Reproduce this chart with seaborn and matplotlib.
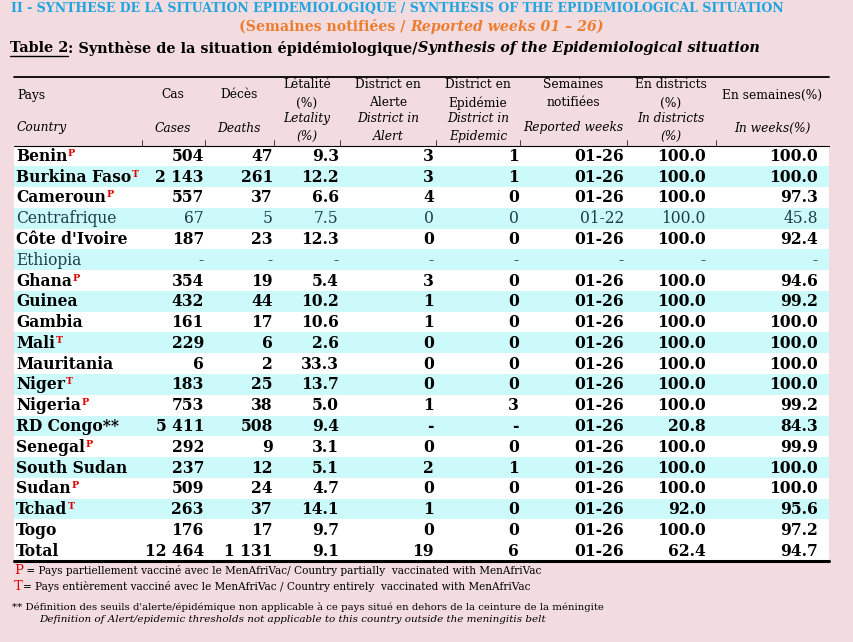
import numpy as np
import matplotlib
matplotlib.use("Agg")
import matplotlib.pyplot as plt
from matplotlib.colors import ListedColormap
import seaborn as sns

sns.set_theme(style="white")
plt.rcParams['font.family'] = ['DejaVu Serif']

# -------------------------
# Dati della tabella
# -------------------------
countries = ['Benin', 'Burkina Faso', 'Cameroun', 'Centrafrique', "Côte d'Ivoire", 'Ethiopia',
             'Ghana', 'Guinea', 'Gambia', 'Mali', 'Mauritania', 'Niger', 'Nigeria', 'RD Congo**',
             'Senegal', 'South Sudan', 'Sudan', 'Tchad', 'Togo', 'Total']
marks = ['P', 'T', 'P', '', '', '', 'P', '', '', 'T', '', 'T', 'P', '', 'P', '', 'P', 'T', '', '']
bold_row = [True, True, True, False, True, False] + [True] * 14
cases = [504, 2143, 557, 67, 187, None, 354, 432, 161, 229, 6, 183, 753, 5411, 292, 237, 509, 263, 176, 12464]
deaths = [47, 261, 37, 5, 23, None, 19, 44, 17, 6, 2, 25, 38, 508, 9, 12, 24, 37, 17, 1131]
letality = [9.3, 12.2, 6.6, 7.5, 12.3, None, 5.4, 10.2, 10.6, 2.6, 33.3, 13.7, 5.0, 9.4, 3.1, 5.1, 4.7, 14.1, 9.7, 9.1]
alert = [3, 3, 4, 0, 0, None, 3, 1, 1, 0, 0, 0, 1, None, 0, 2, 0, 1, 0, 19]
epidemic = [1, 1, 0, 0, 0, None, 0, 0, 0, 0, 0, 0, 3, None, 0, 1, 0, 0, 0, 6]
weeks = ['01-26', '01-26', '01-26', '01-22', '01-26', '-'] + ['01-26'] * 14
pct_districts = [100.0, 100.0, 100.0, 100.0, 100.0, None, 100.0, 100.0, 100.0, 100.0, 100.0, 100.0,
                 100.0, 20.8, 100.0, 100.0, 100.0, 92.0, 100.0, 62.4]
pct_weeks = [100.0, 100.0, 97.3, 45.8, 92.4, None, 94.6, 99.2, 100.0, 100.0, 100.0, 100.0,
             99.2, 84.3, 99.9, 100.0, 100.0, 95.6, 97.2, 94.7]
stripe = [0, 1, 0, 1, 0, 1, 0, 1, 0, 1, 0, 1, 0, 1, 0, 1, 0, 1, 0, 0]

head_fr = ['Pays', 'Cas', 'Décès', 'Létalité\n(%)', 'District en\nAlerte', 'District en\nEpidémie',
           'Semaines\nnotifiées', 'En districts\n(%)', 'En semaines(%)']
head_en = ['Country', 'Cases', 'Deaths', 'Letality\n(%)', 'District in\nAlert', 'District in\nEpidemic',
           'Reported weeks', 'In districts\n(%)', 'In weeks(%)']


def fmt_int(v):
    if v is None:
        return '-'
    return f"{v:,}".replace(',', ' ')


def fmt_dec(v):
    return '-' if v is None else f"{v:.1f}"


# -------------------------
# Layout (pixel)
# -------------------------
W, H = 854, 642
PINK = '#F2DCDF'
CYAN = '#CCFAFB'
left, right = 14, 829
top_line, head_bot, body_bot = 76.5, 145.5, 561
n = len(countries)
row_h = (body_bot - head_bot) / n

fig = plt.figure(figsize=(W / 100, H / 100), dpi=100, facecolor=PINK)

# strisce delle righe con heatmap
hax = fig.add_axes([left / W, (H - body_bot) / H, (right - left) / W, (body_bot - head_bot) / H])
sns.heatmap(np.array(stripe).reshape(-1, 1), cmap=ListedColormap(['white', CYAN]), cbar=False,
            ax=hax, linewidths=0, vmin=0, vmax=1)
hax.axis('off')

ax = fig.add_axes([0, 0, 1, 1], facecolor='none')
ax.set_xlim(0, W)
ax.set_ylim(H, 0)
ax.axis('off')
renderer = fig.canvas.get_renderer()


def seq(x, y, parts, **common):
    # scrive pezzi di testo uno dopo l'altro
    for s, kw in parts:
        opts = dict(common)
        opts.update(kw)
        t = ax.text(x, y, s, ha='left', va='center', **opts)
        bb = t.get_window_extent(renderer)
        x = bb.x1
    return x


# titoli
ax.text(11, 9, 'II - SYNTHESE DE LA SITUATION EPIDEMIOLOGIQUE / SYNTHESIS OF THE EPIDEMIOLOGICAL SITUATION',
        ha='left', va='center', fontsize=9.0, fontweight='bold', color='#22A5DE')
t1 = ax.text(0, 27, '(Semaines notifiées / ', fontsize=10.2, fontweight='bold', color='#ED7D31',
             ha='left', va='center')
t2 = ax.text(0, 27, 'Reported weeks 01 – 26)', fontsize=10.2, fontweight='bold', style='italic',
             color='#ED7D31', ha='left', va='center')
w1 = t1.get_window_extent(renderer).width
w2 = t2.get_window_extent(renderer).width
x0 = 421 - (w1 + w2) / 2
t1.set_x(x0)
t2.set_x(x0 + w1)

xe = seq(10, 48, [('Table 2', {}), ], fontsize=10.4, fontweight='bold', color='black')
ax.plot([10, xe], [56, 56], color='black', lw=1)
seq(xe, 48, [(': Synthèse de la situation épidémiologique/', {}),
             ('Synthesis of the Epidemiological situation', {'style': 'italic'})],
    fontsize=10.4, fontweight='bold', color='black')

# linee della tabella
ax.plot([left, right], [top_line, top_line], color='black', lw=1.3)
ax.plot([left, right], [head_bot, head_bot], color='black', lw=0.8)
ax.plot([left, right], [body_bot, body_bot], color='black', lw=2.2)
for xb in [142, 205, 274, 340, 436, 520, 627, 716]:
    ax.plot([xb, xb], [140, head_bot], color='black', lw=0.5)

# intestazioni
head_x = [17, 173, 239, 307, 388, 478, 573, 671, 772]
for i, (fr, en) in enumerate(zip(head_fr, head_en)):
    ha = 'left' if i == 0 else 'center'
    yfr = 95 if '\n' not in fr else 94
    yen = 128 if '\n' not in en else 127.5
    ax.text(head_x[i], yfr, fr, ha=ha, va='center', fontsize=8.8, color='black', linespacing=1.5)
    ax.text(head_x[i], yen, en, ha=ha, va='center', fontsize=8.8, style='italic', color='black',
            linespacing=1.45)

# corpo
col_right = [204, 273, 339, 434, 519, 624, 706, 818]
for i in range(n):
    y = head_bot + (i + 0.5) * row_h + 0.5
    weight = 'bold' if bold_row[i] else 'normal'
    color = 'black' if bold_row[i] else '#1D3B4A'
    t = ax.text(16, y, countries[i], ha='left', va='center', fontsize=11.2, fontweight=weight, color=color)
    if marks[i]:
        xm = t.get_window_extent(renderer).x1
        ax.text(xm + 0.5, y - 3, marks[i], ha='left', va='center', fontsize=6.8, fontweight='bold',
                color='#E00000')
    vals = [fmt_int(cases[i]), fmt_int(deaths[i]), fmt_dec(letality[i]), fmt_int(alert[i]),
            fmt_int(epidemic[i]), weeks[i], fmt_dec(pct_districts[i]), fmt_dec(pct_weeks[i])]
    for xr, v in zip(col_right, vals):
        ax.text(xr, y, v, ha='right', va='center', fontsize=11.2, fontweight=weight, color=color)

# note
seq(14, 570, [('P', {'color': '#E00000', 'fontsize': 9.5}),
              (' = Pays partiellement vacciné avec le MenAfriVac/ Country partially  vaccinated with MenAfriVac', {})],
    fontsize=7.6, color='black')
seq(14, 586, [('T', {'color': '#E00000', 'fontsize': 9.5}),
              ('= Pays entièrement vacciné avec le MenAfriVac / Country entirely  vaccinated with MenAfriVac', {})],
    fontsize=7.6, color='black')
ax.text(12, 607, "** Définition des seuils d'alerte/épidémique non applicable à ce pays situé en dehors de la ceinture de la méningite",
        ha='left', va='center', fontsize=7.25, color='black')
ax.text(39, 620, 'Definition of Alert/epidemic thresholds not applicable to this country outside the meningitis belt',
        ha='left', va='center', fontsize=7.5, style='italic', color='black')

fig.savefig('out.png', dpi=100, facecolor=PINK)
